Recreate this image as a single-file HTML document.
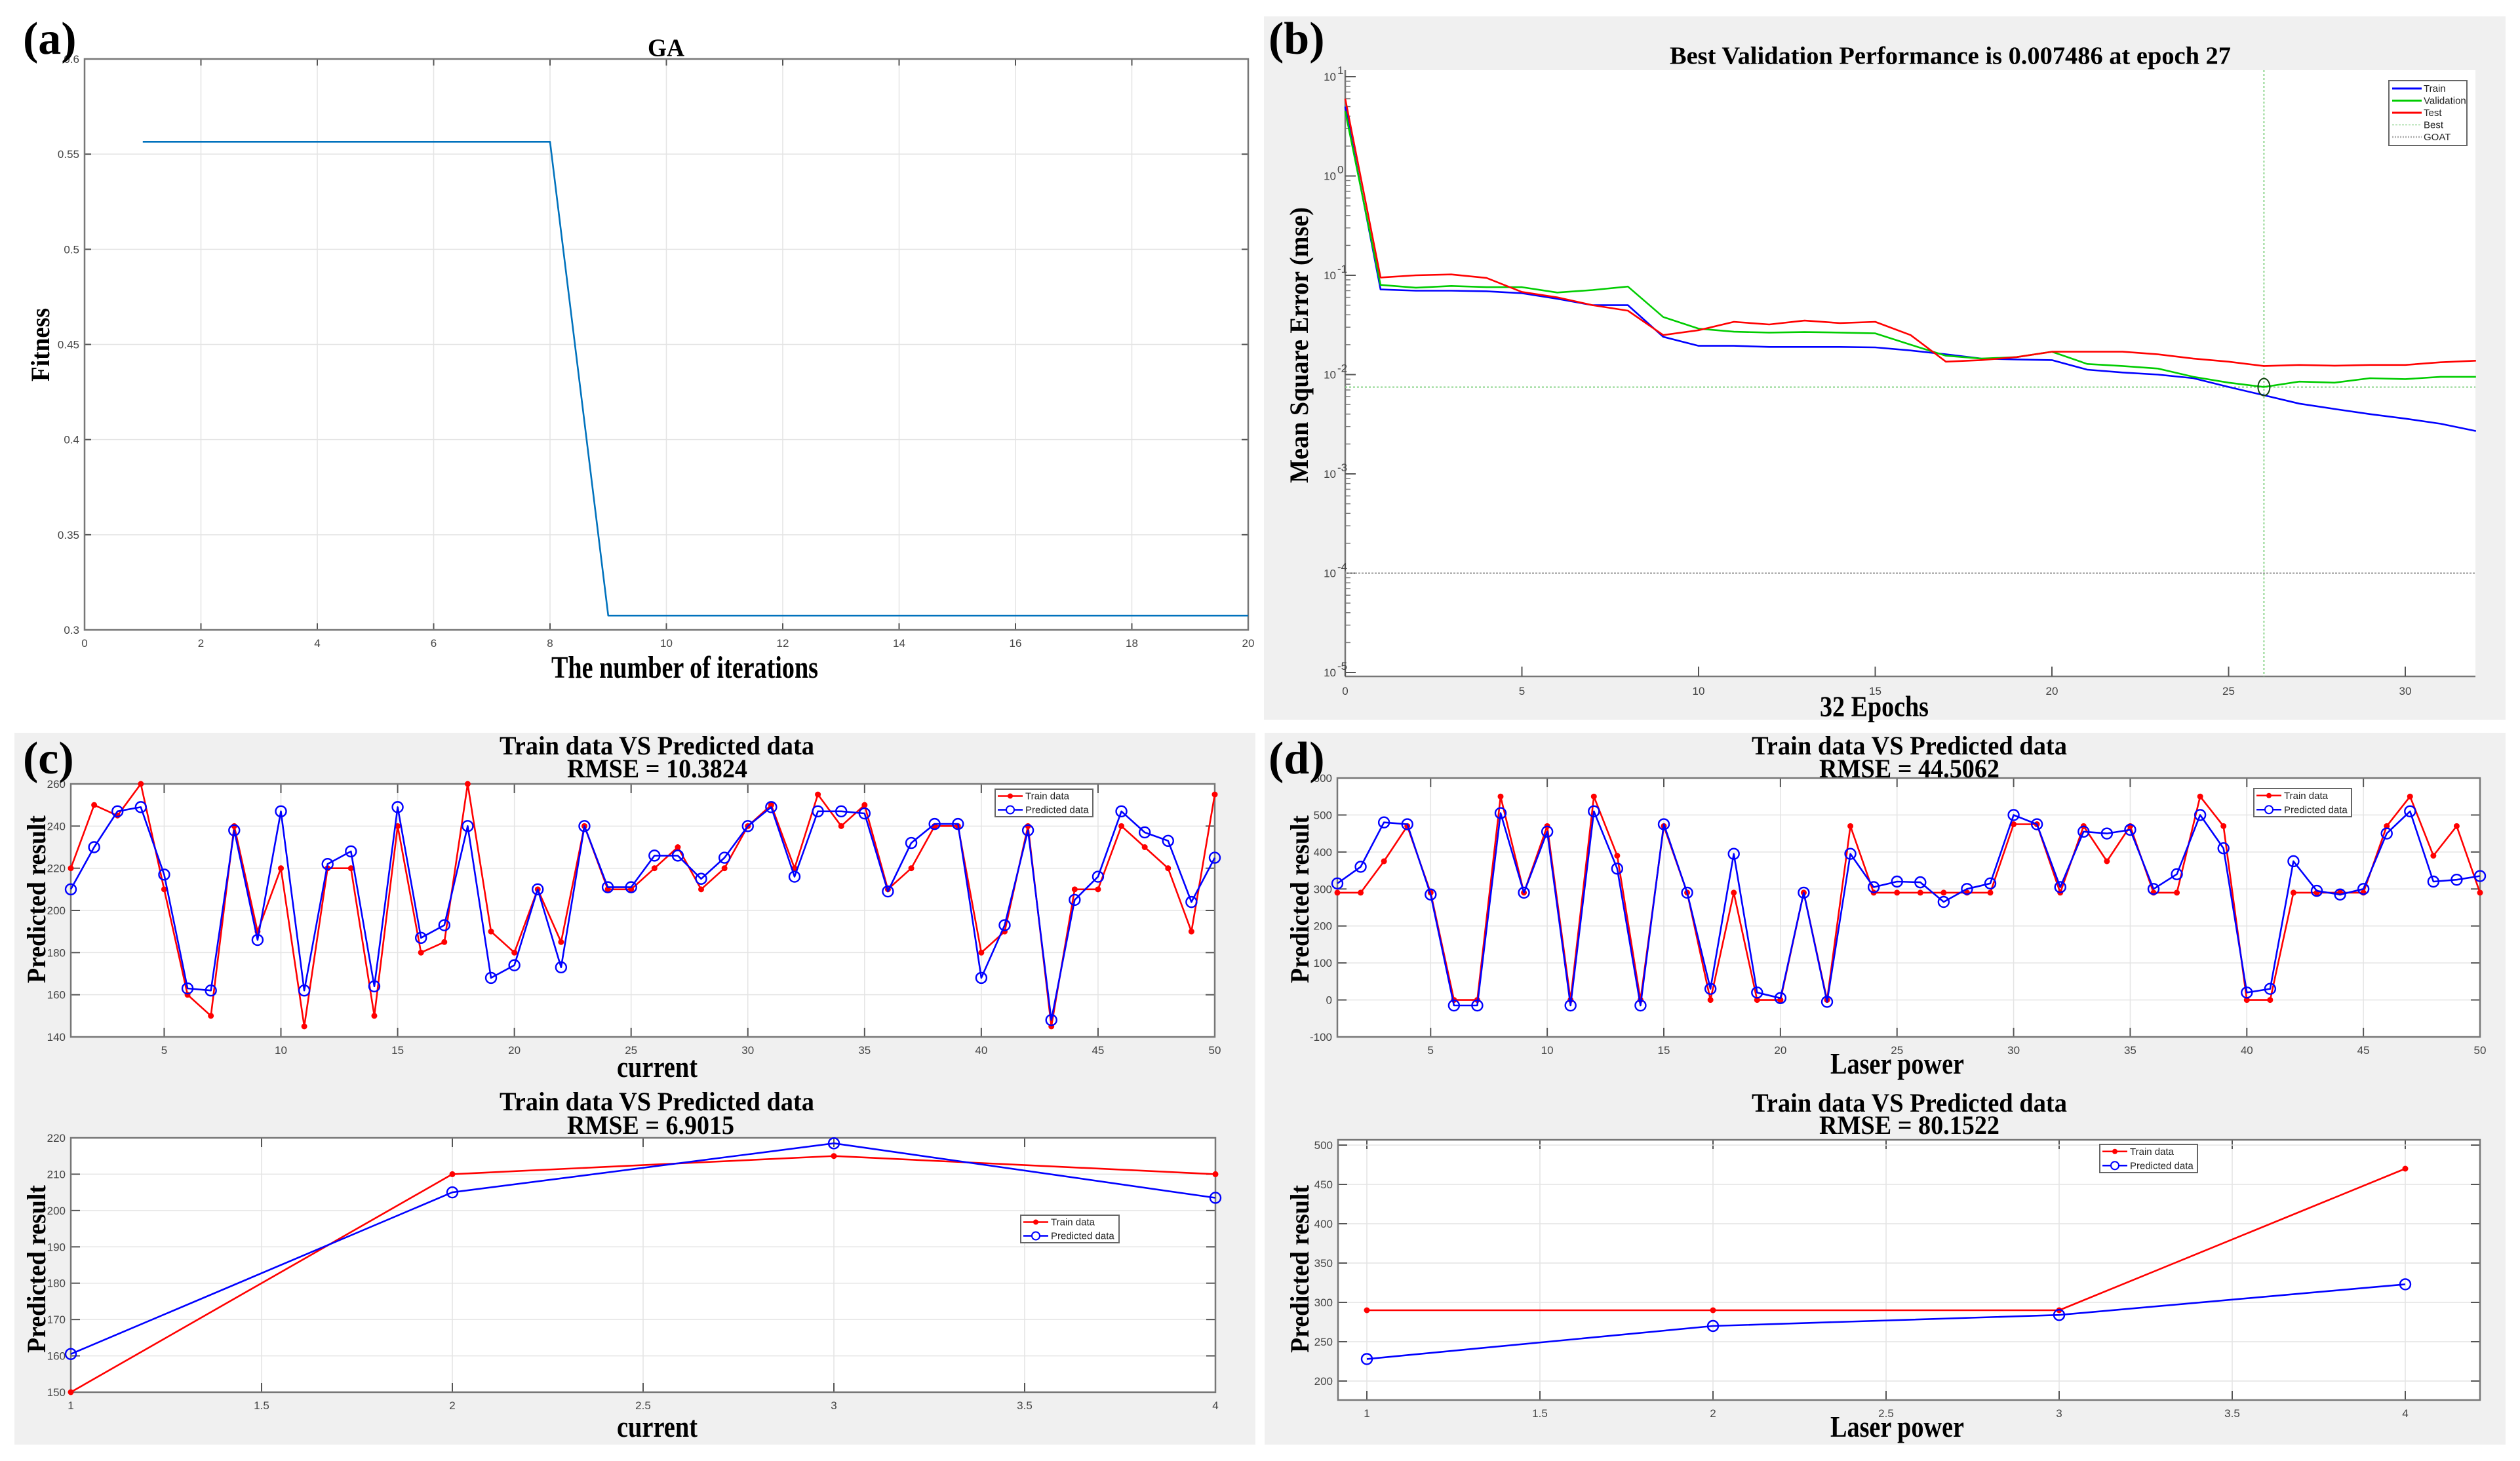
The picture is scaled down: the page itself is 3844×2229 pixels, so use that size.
<!DOCTYPE html>
<html><head><meta charset="utf-8"><style>
html,body{margin:0;padding:0;background:#fff;}
svg{display:block;}
.tk{font-family:"Liberation Sans",sans-serif;font-size:17px;fill:#444;}
.tt{font-family:"Liberation Serif",serif;font-weight:bold;fill:#000;}
.lg{font-family:"Liberation Sans",sans-serif;font-size:15px;fill:#222;}
</style></head><body>
<svg id="fig" width="3844" height="2229" viewBox="0 0 3844 2229" xmlns="http://www.w3.org/2000/svg">
<rect x="0" y="0" width="3844" height="2229" fill="#ffffff"/>
<rect x="1928" y="25" width="1894" height="1073" fill="#f0f0f0"/>
<rect x="22" y="1118" width="1893" height="1086" fill="#f0f0f0"/>
<rect x="1929" y="1118" width="1893" height="1086" fill="#f0f0f0"/>
<g id="layer"></g>
</svg>
<script>
// ---------- Panel (a) data ----------
const gaIter = [1,2,3,4,5,6,7,8,9,10,11,12,13,14,15,16,17,18,19,20];
const gaFitness = [0.5565,0.5565,0.5565,0.5565,0.5565,0.5565,0.5565,0.5565,0.3075,0.3075,0.3075,0.3075,0.3075,0.3075,0.3075,0.3075,0.3075,0.3075,0.3075,0.3075];
const gaXTicks = [0,2,4,6,8,10,12,14,16,18,20];
const gaYTicks = [0.3,0.35,0.4,0.45,0.5,0.55,0.6];
// ---------- Panel (b) data ----------
const epochs = [0,1,2,3,4,5,6,7,8,9,10,11,12,13,14,15,16,17,18,19,20,21,22,23,24,25,26,27,28,29,30,31,32];
const trainMse = [5,0.072,0.070,0.070,0.069,0.066,0.058,0.050,0.050,0.024,0.0195,0.0195,0.019,0.019,0.019,0.0188,0.0175,0.016,0.0145,0.0142,0.014,0.0112,0.0105,0.010,0.0092,0.0075,0.0062,0.0051,0.0045,0.0040,0.0036,0.0032,0.0027];
const valMse = [4.5,0.080,0.075,0.078,0.076,0.076,0.067,0.071,0.077,0.038,0.029,0.027,0.0265,0.0268,0.0265,0.026,0.020,0.0155,0.0145,0.015,0.017,0.0128,0.0122,0.0115,0.0095,0.0083,0.0075,0.0085,0.0083,0.0092,0.009,0.0095,0.0095];
const testMse = [6,0.095,0.100,0.102,0.094,0.068,0.060,0.050,0.044,0.025,0.028,0.034,0.032,0.035,0.033,0.034,0.025,0.0135,0.014,0.015,0.017,0.017,0.017,0.016,0.0145,0.0135,0.0122,0.0125,0.0123,0.0125,0.0125,0.0133,0.0138];
const bestEpoch = [26];
const bestPerf = [0.007486];
const goalMse = [0.0001];
const bXTicks = [0,5,10,15,20,25,30];
const bYExp = [1,0,-1,-2,-3,-4,-5];
// ---------- Panel (c) data ----------
const cIdx = [1,2,3,4,5,6,7,8,9,10,11,12,13,14,15,16,17,18,19,20,21,22,23,24,25,26,27,28,29,30,31,32,33,34,35,36,37,38,39,40,41,42,43,44,45,46,47,48,49,50];
const cTrain = [220,250,245,260,210,160,150,240,190,220,145,220,220,150,240,180,185,260,190,180,210,185,240,210,210,220,230,210,220,240,250,220,255,240,250,210,220,240,240,180,190,240,145,210,210,240,230,220,190,255];
const cPred = [210,230,247,249,217,163,162,238,186,247,162,222,228,164,249,187,193,240,168,174,210,173,240,211,211,226,226,215,225,240,249,216,247,247,246,209,232,241,241,168,193,238,148,205,216,247,237,233,204,225];
const cXTicks = [5,10,15,20,25,30,35,40,45,50];
const cYTicks = [140,160,180,200,220,240,260];
const c2Idx = [1,2,3,4];
const c2Train = [150,210,215,210];
const c2Pred = [160.5,205,218.5,203.5];
const c2XTicks = [1,1.5,2,2.5,3,3.5,4];
const c2YTicks = [150,160,170,180,190,200,210,220];
// ---------- Panel (d) data ----------
const dIdx = cIdx.slice();
const dTrain = [290,290,375,470,290,0,0,550,290,470,0,550,390,0,470,290,0,290,0,0,290,0,470,290,290,290,290,290,290,475,475,290,470,375,470,290,290,550,470,0,0,290,290,290,290,470,550,390,470,290];
const dPred = [315,360,480,475,285,-15,-15,505,290,455,-15,510,355,-15,475,290,30,395,20,5,290,-5,395,305,320,318,265,300,315,500,475,305,455,450,460,300,340,500,410,20,30,375,295,285,300,450,510,320,325,335];
const dXTicks = [5,10,15,20,25,30,35,40,45,50];
const dYTicks = [-100,0,100,200,300,400,500,600];
const d2Idx = [1,2,3,4];
const d2Train = [290,290,290,470];
const d2Pred = [228,270,284,323];
const d2XTicks = [1,1.5,2,2.5,3,3.5,4];
const d2YTicks = [200,250,300,350,400,450,500];

const NS='http://www.w3.org/2000/svg';
const layer=document.getElementById('layer');
function mk(tag,attrs,parent){const e=document.createElementNS(NS,tag);for(const k in attrs)e.setAttribute(k,attrs[k]);(parent||layer).appendChild(e);return e;}
function txt(s,x,y,cls,extra){const e=mk('text',Object.assign({x:x,y:y,class:cls},extra||{}));e.textContent=s;return e;}
function lin(x0,x1,p0,p1){return v=>p0+(v-x0)/(x1-x0)*(p1-p0);}

function axesFrame(name,L,T,R,B,xs,ys,xt,yt,grid,ticklen){
  const g=mk('g',{});
  
  
  const bg=mk('rect',{x:L,y:T,width:R-L,height:B-T,fill:'#fff'},g);
  
  
  xt.forEach(v=>{const x=xs(v);
    if(grid){const gl=mk('line',{x1:x,y1:T,x2:x,y2:B,stroke:'#e4e4e4','stroke-width':1.5},g);
      
      }
    mk('line',{x1:x,y1:B,x2:x,y2:B-ticklen,stroke:'#555','stroke-width':2},g);
    mk('line',{x1:x,y1:T,x2:x,y2:T+ticklen,stroke:'#555','stroke-width':2},g);
    const t=txt(String(v),x,B+26,'tk',{'text-anchor':'middle'});
    
    });
  yt.forEach(v=>{const y=ys(v);
    if(grid){const gl=mk('line',{x1:L,y1:y,x2:R,y2:y,stroke:'#e4e4e4','stroke-width':1.5},g);
      
      }
    mk('line',{x1:L,y1:y,x2:L+ticklen,y2:y,stroke:'#555','stroke-width':2},g);
    mk('line',{x1:R,y1:y,x2:R-ticklen,y2:y,stroke:'#555','stroke-width':2},g);
    const t=txt(String(v),L-8,y+6,'tk',{'text-anchor':'end'});
    
    });
  const box=mk('rect',{x:L,y:T,width:R-L,height:B-T,fill:'none',stroke:'#777','stroke-width':2.5},g);
  
  
}
function series(name,xv,yv,xs,ys,color,marker){
  const pts=xv.map((x,i)=>xs(x).toFixed(1)+','+ys(yv[i]).toFixed(1)).join(' ');
  const pl=mk('polyline',{points:pts,fill:'none',stroke:color,'stroke-width':2.6,'stroke-linejoin':'round'});
  
  
  if(marker){xv.forEach((x,i)=>{
    let m;
    if(marker==='dot'){m=mk('circle',{cx:xs(x),cy:ys(yv[i]),r:4.5,fill:color});}
    else{m=mk('circle',{cx:xs(x),cy:ys(yv[i]),r:8,fill:'none',stroke:color,'stroke-width':2.4});}
    
    });}
}
function stretchText(name,s,x1,x2,yc,size,anchor){
  const t=txt(s,x1,yc+size*0.35,'tt',{'font-size':size,textLength:x2-x1,lengthAdjust:'spacingAndGlyphs'});
  
  
  return t;
}
function vText(name,s,xc,y1,y2,size){
  const len=y2-y1, cy=(y1+y2)/2;
  const t=txt(s,xc+size*0.35,cy,'tt',{'font-size':size,'text-anchor':'middle',textLength:len,lengthAdjust:'spacingAndGlyphs',transform:'rotate(-90 '+(xc+size*0.35)+' '+cy+')'});
  
  
}
function legendTP(name,x1,y1,x2,y2){
  const g=mk('g',{});
  
  
  mk('rect',{x:x1,y:y1,width:x2-x1,height:y2-y1,fill:'#fff',stroke:'#666','stroke-width':2},g);
  const h=(y2-y1)/2;
  const ya=y1+h*0.5, yb=y1+h*1.5;
  mk('line',{x1:x1+4,y1:ya,x2:x1+42,y2:ya,stroke:'#ff0000','stroke-width':2.5},g);
  mk('circle',{cx:x1+23,cy:ya,r:4,fill:'#ff0000'},g);
  mk('line',{x1:x1+4,y1:yb,x2:x1+42,y2:yb,stroke:'#0000ff','stroke-width':2.5},g);
  mk('circle',{cx:x1+23,cy:yb,r:6,fill:'#fff',stroke:'#0000ff','stroke-width':2},g);
  const a=txt('Train data',x1+46,ya+5,'lg',{});
  
  
  const b=txt('Predicted data',x1+46,yb+5,'lg',{});
  
  
}
function panelLabel(s,x,y){const t=txt(s,x,y,'tt',{'font-size':70});
  
  }

// ===== Panel (a) =====
(function(){
  const L=129,T=90,R=1904,B=961;
  const xs=lin(0,20,L,R), ys=lin(0.3,0.6,B,T);
  axesFrame('ga',L,T,R,B,xs,ys,gaXTicks,gaYTicks,true,10);
  series('ga-fitness',gaIter,gaFitness,xs,ys,'#0072bd',null);
  stretchText('ga-title','GA',988,1044,72,38);
  stretchText('ga-x-axis-title','The number of iterations',841,1248,1017,48);
  vText('ga-y-axis-title','Fitness',61,470,582,40);
  panelLabel('(a)',35,82);
})();

// ===== Panel (b) =====
(function(){
  const L=2052,T=107,R=3776,B=1032;
  const xs=lin(0,30,L,3669);
  const ys=v=>{const e=Math.log10(v);return 117+(1-e)/6*(1026-117);};
  const g=mk('g',{});
  
  
  mk('rect',{x:L,y:T,width:R-L,height:B-T,fill:'#fff'},g);
  mk('line',{x1:L,y1:T,x2:L,y2:B,stroke:'#777','stroke-width':2.5},g);
  mk('line',{x1:L,y1:B,x2:R,y2:B,stroke:'#777','stroke-width':2.5},g);
  bXTicks.forEach(v=>{const x=xs(v);mk('line',{x1:x,y1:B,x2:x,y2:B-15,stroke:'#555','stroke-width':2},g);
    const t=txt(String(v),x,B+28,'tk',{'text-anchor':'middle'});
    
    });
  bYExp.forEach(e=>{const y=ys(Math.pow(10,e));mk('line',{x1:L,y1:y,x2:L+16,y2:y,stroke:'#555','stroke-width':2},g);
    if(e>-5){for(let k=2;k<10;k++){const yy=ys(k*Math.pow(10,e-1));mk('line',{x1:L,y1:yy,x2:L+8,y2:yy,stroke:'#777','stroke-width':1.5},g);}}
    const t=txt('10',L-14,y+6,'tk',{'text-anchor':'end'});
    
    
    const s=txt(String(e),L-12,y-4,'tk',{'font-size':11});});
  const xb=xs(bestEpoch[0]), yb=ys(bestPerf[0]);
  const vl=mk('line',{x1:xb,y1:T,x2:xb,y2:B,stroke:'#7fd07f','stroke-width':1.8,'stroke-dasharray':'3,3'});
  
  
  const hl=mk('line',{x1:L,y1:yb,x2:R,y2:yb,stroke:'#7fd07f','stroke-width':1.8,'stroke-dasharray':'3,3'});
  
  
  const gl=mk('line',{x1:L,y1:ys(goalMse[0]),x2:R,y2:ys(goalMse[0]),stroke:'#999','stroke-width':2,'stroke-dasharray':'3,2'});
  
  
  series('train-mse',epochs,trainMse,xs,ys,'#0000ff',null);
  series('validation-mse',epochs,valMse,xs,ys,'#00cc00',null);
  series('test-mse',epochs,testMse,xs,ys,'#ff0000',null);
  const bc=mk('ellipse',{cx:xb,cy:yb,rx:9,ry:13,fill:'none',stroke:'#114411','stroke-width':2});
  
  
  // legend
  const lg=mk('g',{});
  
  
  mk('rect',{x:3644,y:123,width:119,height:99,fill:'#fff',stroke:'#666','stroke-width':2},lg);
  const items=[['Train','#0000ff','none',3],['Validation','#00cc00','none',3],['Test','#ff0000','none',3],['Best','#9ad89a','3,2',1.5],['GOAT','#aaa','2,2',2.5]];
  items.forEach((it,i)=>{const y=135+i*18.5;
    mk('line',{x1:3649,y1:y,x2:3694,y2:y,stroke:it[1],'stroke-width':it[3],'stroke-dasharray':it[2]},lg);
    const t=txt(it[0],3697,y+5,'lg',{'font-size':14});
    
    });
  stretchText('perf-title','Best Validation Performance is 0.007486 at epoch 27',2547,3403,84,38);
  stretchText('perf-x-axis-title','32 Epochs',2776,2942,1077,44);
  vText('perf-y-axis-title','Mean Square Error (mse)',1981,316,737,40);
  panelLabel('(b)',1935,82);
})();

// ===== Panel (c) =====
(function(){
  const L=108,T=1196,R=1853,B=1582;
  const xs=lin(1,50,L,R), ys=lin(140,260,B,T);
  axesFrame('current-train',L,T,R,B,xs,ys,cXTicks,cYTicks,true,14);
  series('current-train-data',cIdx,cTrain,xs,ys,'#ff0000','dot');
  series('current-predicted-data',cIdx,cPred,xs,ys,'#0000ff','circle');
  legendTP('current-train-legend',1518,1204,1667,1246);
  stretchText('current-train-title','Train data VS Predicted data',762,1242,1137,40);
  stretchText('current-train-rmse','RMSE = 10.3824',865,1140,1172,40);
  stretchText('current-train-x-axis-title','current',941,1064,1627,46);
  vText('current-train-y-axis-title','Predicted result',55,1244,1500,40);
  panelLabel('(c)',35,1180);
})();
(function(){
  const L=108,T=1736,R=1854,B=2124;
  const xs=lin(1,4,L,R), ys=lin(150,220,B,T);
  axesFrame('current-test',L,T,R,B,xs,ys,c2XTicks,c2YTicks,true,14);
  series('current-test-train-data',c2Idx,c2Train,xs,ys,'#ff0000','dot');
  series('current-test-predicted-data',c2Idx,c2Pred,xs,ys,'#0000ff','circle');
  legendTP('current-test-legend',1557,1854,1707,1896);
  stretchText('current-test-title','Train data VS Predicted data',762,1242,1680,40);
  stretchText('current-test-rmse','RMSE = 6.9015',865,1120,1716,40);
  stretchText('current-test-x-axis-title','current',941,1064,2176,46);
  vText('current-test-y-axis-title','Predicted result',55,1808,2064,40);
})();

// ===== Panel (d) =====
(function(){
  const L=2040,T=1187,R=3783,B=1582;
  const xs=lin(1,50,L,R), ys=lin(-100,600,B,T);
  axesFrame('laser-train',L,T,R,B,xs,ys,dXTicks,dYTicks,true,14);
  series('laser-train-data',dIdx,dTrain,xs,ys,'#ff0000','dot');
  series('laser-predicted-data',dIdx,dPred,xs,ys,'#0000ff','circle');
  legendTP('laser-train-legend',3438,1203,3587,1246);
  stretchText('laser-train-title','Train data VS Predicted data',2672,3153,1137,40);
  stretchText('laser-train-rmse','RMSE = 44.5062',2775,3050,1172,40);
  stretchText('laser-train-x-axis-title','Laser power',2792,2996,1622,46);
  vText('laser-train-y-axis-title','Predicted result',1982,1244,1500,40);
  panelLabel('(d)',1935,1180);
})();
(function(){
  const L=2041,T=1739,R=3783,B=2136;
  const xs=lin(1,4,2085,3669), ys=lin(200,500,2107,1747);
  axesFrame('laser-test',L,T,R,B,xs,ys,d2XTicks,d2YTicks,true,14);
  series('laser-test-train-data',d2Idx,d2Train,xs,ys,'#ff0000','dot');
  series('laser-test-predicted-data',d2Idx,d2Pred,xs,ys,'#0000ff','circle');
  legendTP('laser-test-legend',3203,1746,3352,1789);
  stretchText('laser-test-title','Train data VS Predicted data',2672,3153,1682,40);
  stretchText('laser-test-rmse','RMSE = 80.1522',2775,3050,1716,40);
  stretchText('laser-test-x-axis-title','Laser power',2792,2996,2176,46);
  vText('laser-test-y-axis-title','Predicted result',1982,1808,2064,40);
})();
</script>
</body></html>
